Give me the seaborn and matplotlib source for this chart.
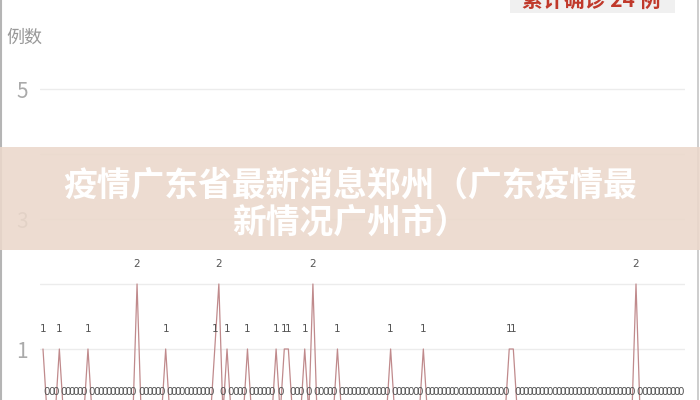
import seaborn as sns
import matplotlib.pyplot as plt
import pandas as pd
from matplotlib.patches import Rectangle

# Datos diarios (casos por dia)
counts = [
    1, 0, 0, 0, 1, 0, 0, 0, 0, 0, 0, 1, 0, 0, 0, 0, 0, 0, 0, 0,
    0, 0, 0, 2, 0, 0, 0, 0, 0, 0, 1, 0, 0, 0, 0, 0, 0, 0, 0, 0,
    0, 0, 1, 2, 0, 1, 0, 0, 0, 0, 1, 0, 0, 0, 0, 0, 0, 1, 0, 1,
    1, 0, 0, 0, 1, 0, 2, 0, 0, 0, 0, 0, 1, 0, 0, 0, 0, 0, 0, 0,
    0, 0, 0, 0, 0, 1, 0, 0, 0, 0, 0, 0, 0, 1, 0, 0, 0, 0, 0, 0,
    0, 0, 0, 0, 0, 0, 0, 0, 0, 0, 0, 0, 0, 0, 1, 1, 0, 0, 0, 0,
    0, 0, 0, 0, 0, 0, 0, 0, 0, 0, 0, 0, 0, 0, 0, 0, 0, 0, 0, 0,
    0, 0, 0, 0, 0, 2, 0, 0, 0, 0, 0, 0, 0, 0, 0, 0, 0,
]
days = list(range(len(counts)))
ytick_vals = [1, 2, 3, 4, 5]
ytick_text = ["1", "", "3", "", "5"]
y_label = "例数"
title = "疫情广东省最新消息郑州（广东疫情最\n新情况广州市）"
total_text = "累计确诊 24 例"

df = pd.DataFrame({"day": days, "count": counts})

sns.set_style("white")
plt.rcParams["font.family"] = ["Noto Sans CJK SC", "DejaVu Sans"]

fig = plt.figure(figsize=(7, 4), dpi=100)
# el eje cero queda por debajo del borde de la imagen
ax = fig.add_axes([40 / 700, -14 / 400, 645 / 700, 390 / 400])

sns.lineplot(data=df, x="day", y="count", ax=ax, color="#c08a8c", lw=0.9)

for d, c in zip(days, counts):
    ax.annotate(str(c), (d, c), xytext=(0, 20 if c else 22), textcoords="offset pixels",
                ha="center", va="center", fontsize=7.5, color="#555555",
                family=["Liberation Sans Narrow", "DejaVu Sans"],
                annotation_clip=False)

ax.set_xlim(-0.73, 156.98)
ax.set_ylim(0, 6)
ax.set_yticks(ytick_vals)
ax.set_yticklabels(ytick_text, fontsize=15, color="#aaaaaa", fontweight="light")
ax.set_xticks([])
ax.tick_params(axis="y", length=0, pad=9)
ax.yaxis.grid(True, color="#ececec", lw=1)
ax.set_xlabel("")
ax.set_ylabel("")
sns.despine(ax=ax, left=True, bottom=True)

fig.text(6 / 700, 1 - 38 / 400, y_label, fontsize=13, color="#999999",
         va="center", ha="left")

# banda del titulo
fig.patches.append(Rectangle((0, 150 / 400), 1, 103 / 400, transform=fig.transFigure,
                             facecolor="#ebd8cb", alpha=0.88, edgecolor="none", zorder=5))
fig.text(0.5, 1 - 204 / 400, title, fontsize=24.3, fontweight="heavy", color="white",
         ha="center", va="center", linespacing=1.07, zorder=6)

# boton superior derecho
fig.patches.append(Rectangle((510 / 700, 1 - 13 / 400), 165 / 700, 13 / 400,
                             transform=fig.transFigure, facecolor="#f0f0f0",
                             edgecolor="none", zorder=5))
fig.text(591 / 700, 1 - 1 / 400, total_text, fontsize=15, fontweight="bold",
         color="#c0392b", ha="center", va="center", zorder=6)

# bordes laterales
fig.add_artist(plt.Line2D([1 / 700, 1 / 700], [0, 1], color="#b5b5b5", lw=1.5))
fig.add_artist(plt.Line2D([698 / 700, 698 / 700], [0, 1], color="#c5c5c5", lw=1.2))

fig.savefig("out.png", dpi=100)
